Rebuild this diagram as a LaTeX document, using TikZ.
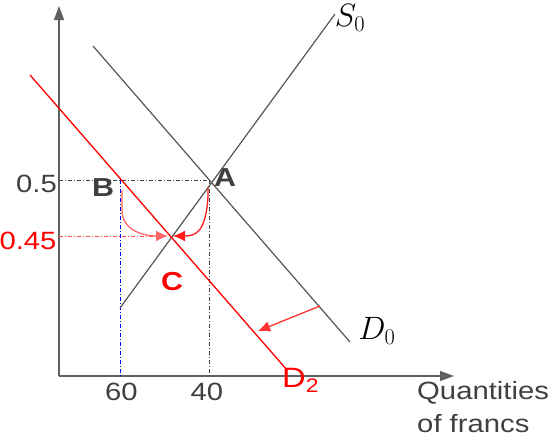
\documentclass[tikz,border=0pt]{standalone}
\usepackage{fontspec}
\setmainfont{Liberation Sans}
\usetikzlibrary{arrows.meta}
\definecolor{txtgray}{HTML}{404040}
\definecolor{linegray}{HTML}{555555}
\definecolor{axisgray}{HTML}{606060}
\tikzset{
  txt/.style={font=\fontsize{25}{30}\selectfont, text=txtgray, xscale=1.17, inner sep=0pt},
  redtxt/.style={txt, text=red},
  boldtxt/.style={txt, font=\fontsize{26}{30}\selectfont\bfseries},
  mathtxt/.style={font=\fontsize{24}{28}\selectfont, text=black, inner sep=0pt, scale=1.3},
  curve/.style={draw=linegray, line width=1.2pt},
  axis/.style={draw=axisgray, line width=1.3pt, -{Triangle[width=10pt,length=14pt]}},
  guide/.style={draw=txtgray, line width=0.9pt, dash pattern=on 4pt off 2pt on 1pt off 2pt},
  redarr/.style={draw=red!80, line width=1.3pt, -{Latex[width=11pt,length=12pt]}},
}
\begin{document}
\begin{tikzpicture}[x=1pt,y=-1pt]
\useasboundingbox (0,0) rectangle (555,447);
% key points
\coordinate (O) at (59,376);
\coordinate (Ytop) at (59,6);
\coordinate (Xend) at (454,376);
\coordinate (S0a) at (120,308);
\coordinate (S0b) at (335,14);
\coordinate (D0a) at (93,46);
\coordinate (D0b) at (350,342);
\coordinate (D2a) at (30,75);
\coordinate (D2b) at (287,370);
\coordinate (A) at (209,180);
\coordinate (B) at (120,180);
\coordinate (C) at (171,236);
\coordinate (Ay) at (59,180);
\coordinate (Ax) at (209,376);
\coordinate (Bx) at (120,376);
\coordinate (Cy) at (59,236);
\coordinate (Cl) at (160,236);
\coordinate (Bs) at (122,190);
\coordinate (As) at (208,188);
\coordinate (Ps) at (320,306);
\coordinate (Pe) at (258,331);
% axes
\draw[axis] (O) -- (Ytop);
\draw[axis] (O) -- (Xend);
% guides
\draw[guide] (Ay) -- (A);
\draw[guide] (A) -- (Ax);
\draw[guide, draw=blue] (B) -- (Bx);
\draw[guide, draw=red!70] (Cy) -- (Cl);
% curves
\draw[curve] (S0a) -- (S0b);
\draw[curve] (D0a) -- (D0b);
\draw[draw=red, line width=1.3pt] (D2a) -- (D2b);
% red arrows
\draw[redarr, draw=red!60, shorten >=3pt] (Bs) -- (122,212) .. controls (124,234) and (150,236) .. (C);
\draw[redarr, draw=red!90, shorten >=2pt] (As) -- (208,196) .. controls (206,232) and (196,236) .. (C);
\draw[redarr, draw=red!80] (Ps) -- (Pe);
% labels
\node[txt] (l05) at (36.5,184) {0.5};
\node[redtxt] (l045) at (28,241) {0.45};
\node[boldtxt] (lB) at (103,188) {B};
\node[boldtxt] (lA) at (225,178) {A};
\node[boldtxt, text=red] (lC) at (172,282) {C};
\node[txt] (l60) at (121.5,392) {60};
\node[txt] (l40) at (207,392) {40};
\node[redtxt, anchor=west, font=\fontsize{28}{32}\selectfont] (lD2) at (282,380) {D\textsubscript{2}};
\node[mathtxt] (lD0) at (377,331) {$D_0$};
\node[mathtxt] (lS0) at (350,18) {$S_0$};
\node[txt, anchor=north west, align=left, font=\fontsize{25}{33}\selectfont] (lQ) at (417,381) {Quantities\\of francs};
\end{tikzpicture}
\end{document}
